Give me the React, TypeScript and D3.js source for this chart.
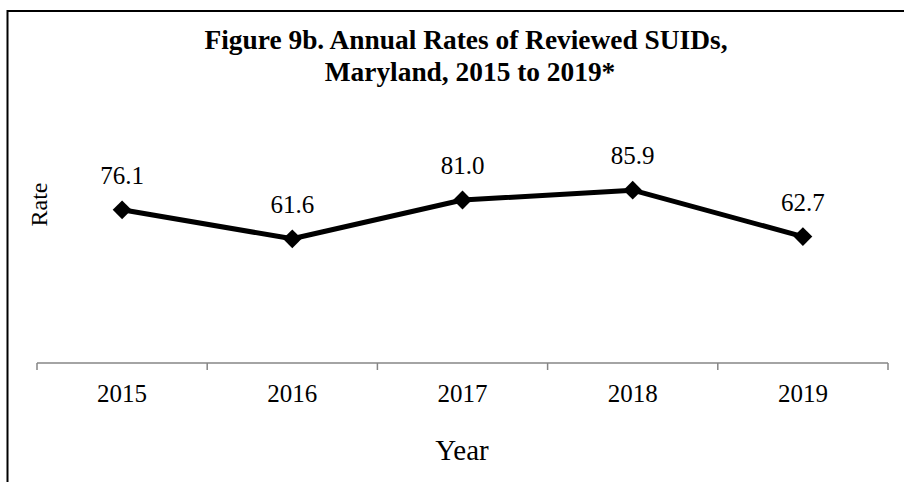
import React from "react";
import * as d3 from "d3";

const years = ["2015", "2016", "2017", "2018", "2019"];
const rates = [76.1, 61.6, 81.0, 85.9, 62.7];
const rateLabels = ["76.1", "61.6", "81.0", "85.9", "62.7"];
const titleLines = ["Figure 9b. Annual Rates of Reviewed SUIDs,", "Maryland, 2015 to 2019*"];

const W = 904;
const H = 482;
const FONT = "'Liberation Serif', 'Times New Roman', serif";

export default function App() {
  const x = d3.scaleBand<string>().domain(years).range([37, 888]).padding(0);
  const y = d3.scaleLinear().domain([0, 100]).range([362, 162]);
  const axisY = 363;
  const tickXs = [...years.map((d) => x(d) as number), x.range()[1]];
  const cx = (d: string) => (x(d) as number) + x.bandwidth() / 2;
  const line = d3
    .line<number>()
    .x((_, i) => cx(years[i]))
    .y((v) => y(v));
  const symType = (d3 as any).symbolDiamond2 || d3.symbolSquare;
  const diamond = d3.symbol().type(symType).size(225)();

  return (
    <svg
      width={W}
      height={H}
      style={{ position: "absolute", left: 0, top: 0, background: "#fff" }}
      fontFamily={FONT}
    >
      <rect x={0} y={0} width={W} height={H} fill="#fff" />
      {/* frame */}
      <path d={`M7.5,${H + 5} L7.5,11 L${W + 5},11`} fill="none" stroke="#000" strokeWidth={2} />
      {/* title */}
      <text x={466} y={49} textAnchor="middle" fontSize={27.4} fontWeight="bold" fill="#000">
        {titleLines[0]}
      </text>
      <text x={470} y={81} textAnchor="middle" fontSize={27.4} fontWeight="bold" fill="#000">
        {titleLines[1]}
      </text>
      {/* y label */}
      <text transform="translate(47,204.5) rotate(-90)" textAnchor="middle" fontSize={24} fill="#000">
        Rate
      </text>
      {/* x axis */}
      <line x1={37} x2={888} y1={axisY} y2={axisY} stroke="#868686" strokeWidth={1.5} />
      {tickXs.map((t, i) => (
        <line key={i} x1={t} x2={t} y1={axisY} y2={axisY + 7} stroke="#868686" strokeWidth={1.5} />
      ))}
      {years.map((d) => (
        <text key={d} x={cx(d)} y={402} textAnchor="middle" fontSize={25} fill="#000">
          {d}
        </text>
      ))}
      <text x={462} y={460} textAnchor="middle" fontSize={29} fill="#000">
        Year
      </text>
      {/* series */}
      <path d={line(rates) || ""} fill="none" stroke="#000" strokeWidth={5} strokeLinejoin="round" />
      {rates.map((v, i) => (
        <path
          key={i}
          d={diamond || ""}
          transform={`translate(${cx(years[i])},${y(v)})${symType === d3.symbolSquare ? " rotate(45)" : ""}`}
          fill="#000"
        />
      ))}
      {rates.map((v, i) => (
        <text key={i} x={cx(years[i])} y={y(v) - 26} textAnchor="middle" fontSize={25} fill="#000">
          {rateLabels[i]}
        </text>
      ))}
    </svg>
  );
}
